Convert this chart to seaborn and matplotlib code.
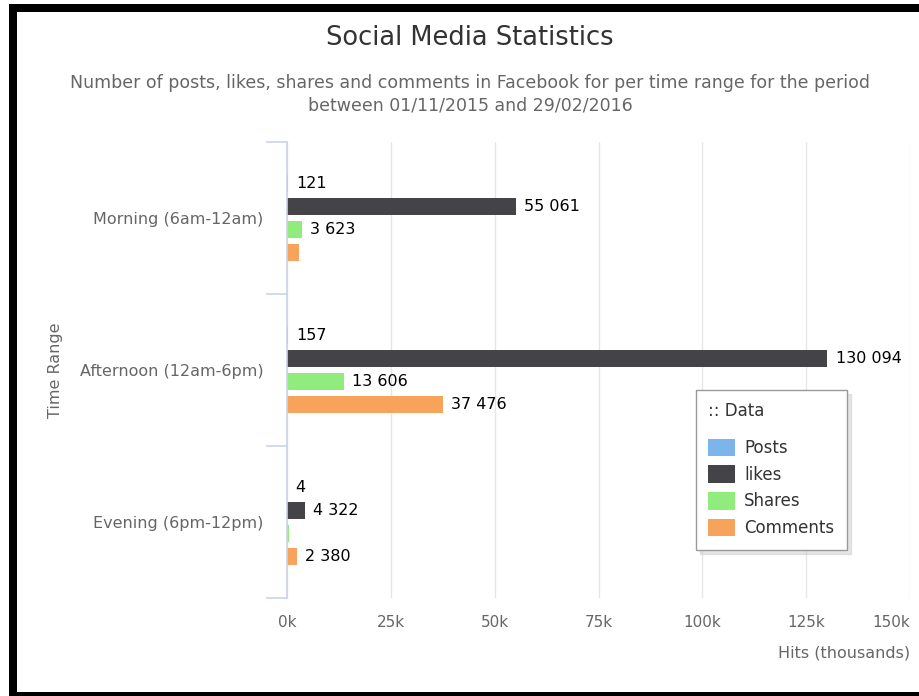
import matplotlib
matplotlib.use("Agg")
import matplotlib.pyplot as plt
from matplotlib.patches import Rectangle, Patch
from matplotlib.ticker import FixedLocator
import seaborn as sns
import pandas as pd

# Facebook activity per time range (01/11/2015 - 29/02/2016)
time_ranges = ["Morning (6am-12am)", "Afternoon (12am-6pm)", "Evening (6pm-12pm)"]
series_names = ["Posts", "likes", "Shares", "Comments"]
posts = [121, 157, 4]
likes = [55061, 130094, 4322]
shares = [3623, 13606, 450]
comments = [2800, 37476, 2380]
# which bars carry a value label
shown_labels = {
    "Posts": [True, True, True],
    "likes": [True, True, True],
    "Shares": [True, True, False],
    "Comments": [False, True, True],
}
x_ticks = [0, 25000, 50000, 75000, 100000, 125000, 150000]
x_tick_labels = ["0k", "25k", "50k", "75k", "100k", "125k", "150k"]
palette = ["#7cb5ec", "#434348", "#90ed7d", "#f7a35c"]

values = {"Posts": posts, "likes": likes, "Shares": shares, "Comments": comments}
rows = []
for s in series_names:
    for r, v in zip(time_ranges, values[s]):
        rows.append({"range": r, "series": s, "value": v})
df = pd.DataFrame(rows)

sns.set_theme(style="white")
plt.rcParams["font.family"] = ["DejaVu Sans"]

W, H = 920, 696
fig = plt.figure(figsize=(W / 100, H / 100), dpi=100)
fig.patch.set_facecolor("white")
ax = fig.add_axes([287 / W, 1 - 598 / H, (910 - 287) / W, (598 - 142) / H])

sns.barplot(data=df, y="range", x="value", hue="series", order=time_ranges,
            hue_order=series_names, palette=palette, orient="h",
            width=0.6, gap=0.25, errorbar=None, saturation=1,
            linewidth=0, ax=ax, legend=False)

ax.set_xlim(0, 150000)
ax.set_ylim(2.5, -0.5)
ax.set_xticks(x_ticks)
ax.set_xticklabels(x_tick_labels)
ax.xaxis.grid(True, color="#e6e6e6", linewidth=1)
ax.yaxis.grid(False)
ax.set_axisbelow(True)
for side in ["top", "right", "bottom"]:
    ax.spines[side].set_visible(False)
ax.spines["left"].set_color("#c8d4e8")
ax.spines["left"].set_linewidth(1.2)
ax.spines["left"].set_zorder(5)

ax.tick_params(axis="x", length=0, pad=12, labelsize=11, labelcolor="#666666")
# last x label kept inside the plot edge
xl = ax.get_xticklabels()
xl[-1].set_horizontalalignment("right")
ax.tick_params(axis="y", which="major", left=False, length=0, pad=17,
               labelsize=11.5, labelcolor="#666666")
ax.yaxis.set_minor_locator(FixedLocator([-0.5, 0.5, 1.5, 2.5]))
ax.tick_params(axis="y", which="minor", left=True, length=15, width=1.2,
               color="#c8d4e8")

ax.set_xlabel("Hits (thousands)", fontsize=11.5, color="#666666")
ax.xaxis.set_label_coords(1.0, -0.105)
ax.xaxis.label.set_horizontalalignment("right")
ax.set_ylabel("Time Range", fontsize=11.5, color="#666666")
ax.yaxis.set_label_coords(-0.372, 0.5)
ax.yaxis.label.set_verticalalignment("center")

# value labels beside the bars
for container, name in zip(ax.containers, series_names):
    labels = []
    for v, show in zip(values[name], shown_labels[name]):
        labels.append(f"{v:,}".replace(",", " ") if show else "")
    ax.bar_label(container, labels=labels, padding=6, fontsize=11.5,
                 color="#000000")

fig.text(470 / W, 1 - 38 / H, "Social Media Statistics", ha="center",
         va="center", fontsize=18.5, color="#333333")
fig.text(470 / W, 1 - 94 / H,
         "Number of posts, likes, shares and comments in Facebook for per time range for the period\nbetween 01/11/2015 and 29/02/2016",
         ha="center", va="center", fontsize=12.5, color="#666666",
         linespacing=1.3)

handles = [Patch(facecolor=c, edgecolor="none") for c in palette]
leg = fig.legend(handles, series_names, title=":: Data",
                 loc="upper left",
                 bbox_to_anchor=(696 / W, 1 - 390 / H),
                 frameon=True, fancybox=False,
                 shadow={"ox": 3, "oy": -3, "color": "#cccccc"},
                 fontsize=12, title_fontsize=12,
                 handlelength=1.6, handleheight=1.25, handletextpad=0.55,
                 labelspacing=0.5, borderpad=0.75, borderaxespad=0)
leg._legend_box.align = "left"
leg._legend_box.sep = 13
leg.get_frame().set_edgecolor("#999999")
leg.get_frame().set_linewidth(1)
for t in leg.get_texts():
    t.set_color("#333333")
leg.get_title().set_color("#333333")

# black frame around the picture
black = "#000000"
fig.add_artist(Rectangle((9 / W, 0), 8 / W, 1 - 4 / H, transform=fig.transFigure,
                         facecolor=black, edgecolor="none"))
fig.add_artist(Rectangle((9 / W, 1 - 12 / H), 1 - 9 / W, 8 / H,
                         transform=fig.transFigure, facecolor=black, edgecolor="none"))
fig.add_artist(Rectangle((9 / W, 0), 1 - 9 / W, 4 / H,
                         transform=fig.transFigure, facecolor=black, edgecolor="none"))

fig.savefig("out.png", dpi=100, facecolor="white")
